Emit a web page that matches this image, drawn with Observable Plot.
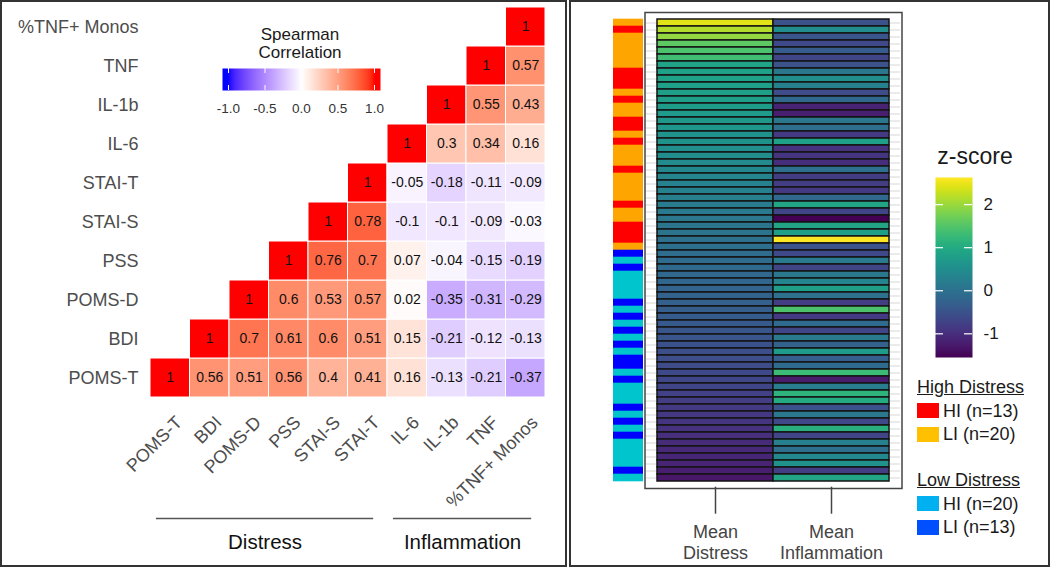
<!DOCTYPE html>
<html>
<head>
<meta charset="utf-8">
<script src="https://cdn.jsdelivr.net/npm/d3@7"></script>
<script src="https://cdn.jsdelivr.net/npm/@observablehq/plot@0.6"></script>
<style>
  body { margin: 0; background: #fff; font-family: "Liberation Sans", Arial, sans-serif; }
  #root { position: relative; width: 1050px; height: 568px; overflow: hidden; background: #fff; }
  .abs { position: absolute; }
  .abs svg { display: block; max-width: none !important; }
  .box { position: absolute; box-sizing: border-box; border: 2px solid #333; }
</style>
</head>
<body>
<div id="root"></div>
<script>
// ---------------- DATA ----------------
// Left panel: Spearman correlation matrix (upper triangle, each row starts at its own column)
const vars = ["POMS-T", "BDI", "POMS-D", "PSS", "STAI-S", "STAI-T", "IL-6", "IL-1b", "TNF", "%TNF+ Monos"];
const corrPOMST = [1, 0.56, 0.51, 0.56, 0.4, 0.41, 0.16, -0.13, -0.21, -0.37];
const corrBDI   = [1, 0.7, 0.61, 0.6, 0.51, 0.15, -0.21, -0.12, -0.13];
const corrPOMSD = [1, 0.6, 0.53, 0.57, 0.02, -0.35, -0.31, -0.29];
const corrPSS   = [1, 0.76, 0.7, 0.07, -0.04, -0.15, -0.19];
const corrSTAIS = [1, 0.78, -0.1, -0.1, -0.09, -0.03];
const corrSTAIT = [1, -0.05, -0.18, -0.11, -0.09];
const corrIL6   = [1, 0.3, 0.34, 0.16];
const corrIL1b  = [1, 0.55, 0.43];
const corrTNF   = [1, 0.57];
const corrMonos = [1];
const corrTicks = [-1, -0.5, 0, 0.5, 1];
const groupNames = ["Distress", "Inflammation"];
const groupFirst = ["POMS-T", "IL-6"];
const groupLast  = ["STAI-T", "%TNF+ Monos"];

// Right panel: per-subject group (HD = high distress, LD = low distress; HI/LI = high/low inflammation)
const groupSeq = [
  "HD-LI","HD-HI","HD-LI","HD-LI","HD-LI","HD-LI","HD-LI","HD-HI","HD-HI","HD-HI",
  "HD-LI","HD-HI","HD-LI","HD-LI","HD-HI","HD-HI","HD-LI","HD-HI","HD-LI","HD-LI",
  "HD-LI","HD-HI","HD-LI","HD-LI","HD-LI","HD-LI","HD-HI","HD-LI","HD-LI","HD-HI",
  "HD-HI","HD-HI","HD-LI","LD-LI","LD-HI","LD-LI","LD-HI","LD-HI","LD-HI","LD-HI",
  "LD-LI","LD-HI","LD-LI","LD-HI","LD-LI","LD-HI","LD-LI","LD-HI","LD-LI","LD-LI",
  "LD-HI","LD-LI","LD-HI","LD-HI","LD-HI","LD-LI","LD-HI","LD-LI","LD-HI","LD-LI",
  "LD-HI","LD-HI","LD-HI","LD-HI","LD-LI","LD-HI"
];
const meanDistress = [
  2.45, 2.15, 1.95, 1.6, 1.45, 1.35, 0.87, 0.85, 0.83, 0.81,
  0.79, 0.77, 0.75, 0.72, 0.68, 0.64, 0.6, 0.56, 0.52, 0.48,
  0.44, 0.4, 0.35, 0.31, 0.27, 0.23, 0.19, 0.15, 0.11, 0.07,
  0.04, 0.0, -0.03, -0.07, -0.1, -0.13, -0.16, -0.19, -0.22, -0.25,
  -0.29, -0.32, -0.35, -0.39, -0.43, -0.47, -0.51, -0.54, -0.57, -0.6,
  -0.63, -0.66, -0.7, -0.76, -0.8, -0.84, -0.88, -0.91, -0.95, -0.99,
  -1.03, -1.07, -1.1, -1.14, -1.2, -1.3
];
const meanInflammation = [
  -0.5, 0.5, -0.45, -0.65, -0.35, -0.7, -0.5, 0.1, 0.5, 0.25,
  -0.6, -0.15, -1.15, -1.2, 0.1, -0.05, -0.85, 0.85, -0.95, -0.9,
  -1.0, -0.05, -0.8, -0.8, -0.85, -0.15, 0.9, -0.7, -1.55, 0.9,
  0.8, 2.63, -0.5, -0.65, 0.15, -0.7, 0.1, 0.35, 0.8, 0.0,
  -0.8, 1.45, -0.85, -0.1, -0.7, 0.15, -0.25, 0.75, -0.3, -0.1,
  1.3, -1.25, 0.2, 1.15, 1.0, -0.5, 0.1, -0.65, 1.1, -0.7,
  0.25, 0.0, 0.4, 0.55, -0.8, 0.9
];
const measures = ["Mean Distress", "Mean Inflammation"];
const groupKeys = ["HD-HI", "HD-LI", "LD-HI", "LD-LI"];
const groupLabels = ["HI", "LI", "HI", "LI"];
const stripColors = ["#ff0000", "#ffa500", "#00c5cd", "#0000ff"];
const legendColors = ["#ff0000", "#ffc000", "#00b0f0", "#0050ff"];
const legendSections = ["High Distress", "Low Distress"];
const zTicks = [-1, 0, 1, 2];

// ---------------- BUILD ----------------
const FONT = '"Liberation Sans", Arial, sans-serif';
const root = document.getElementById("root");
function place(node, left, top, width) {
  const d = document.createElement("div");
  d.className = "abs";
  d.style.left = left + "px";
  d.style.top = top + "px";
  if (width != null) d.style.width = width + "px";
  d.appendChild(node);
  root.appendChild(d);
  return d;
}
function box(left, top, w, h) {
  const d = document.createElement("div");
  d.className = "box";
  Object.assign(d.style, {left: left + "px", top: top + "px", width: w + "px", height: h + "px"});
  root.appendChild(d);
}
function html(str, styles) {
  const d = document.createElement("div");
  d.className = "abs";
  d.innerHTML = str;
  Object.assign(d.style, styles);
  root.appendChild(d);
  return d;
}

// panel borders
box(0, 0, 567, 567);
box(569, 0, 481, 567);

// ---- Left: correlation matrix ----
const corrRows = [corrPOMST, corrBDI, corrPOMSD, corrPSS, corrSTAIS, corrSTAIT, corrIL6, corrIL1b, corrTNF, corrMonos];
const cells = [];
corrRows.forEach((vals, i) => vals.forEach((r, k) => cells.push({i, j: i + k, row: vars[i], col: vars[i + k], r})));
const idx = (name) => vars.indexOf(name);
const groups = groupNames.map((name, g) => ({
  name,
  x1: idx(groupFirst[g]) - 0.35,
  x2: idx(groupLast[g]) + 0.15
}));
const corrColor = {type: "linear", domain: [-1, 0, 1], range: ["#0000ff", "#ffffff", "#ff0000"], interpolate: "lab", clamp: true};
const n = vars.length;

const left = Plot.plot({
  width: 567, height: 568,
  marginLeft: 150, marginRight: 22, marginTop: 7, marginBottom: 171,
  x: {domain: [-0.5, n - 0.5], axis: null},
  y: {domain: [-0.5, n - 0.5], axis: null},
  color: corrColor,
  style: {fontFamily: FONT, background: "transparent", overflow: "visible"},
  marks: [
    Plot.rect(cells, {x1: d => d.j - 0.5, x2: d => d.j + 0.5, y1: d => d.i - 0.5, y2: d => d.i + 0.5, fill: "r", stroke: "white", strokeWidth: 1}),
    Plot.text(cells, {x: "j", y: "i", text: d => String(d.r), fontSize: 14, fill: "#111"}),
    Plot.text(vars, {frameAnchor: "left", y: (d, i) => i, text: d => d, textAnchor: "end", dx: -12, fontSize: 18, fill: "#4d4d4d"}),
    Plot.text(vars, {frameAnchor: "bottom", x: (d, i) => i, text: d => d, rotate: -45, textAnchor: "end", lineAnchor: "top", dx: 4, dy: 17, fontSize: 18, fill: "#4d4d4d"}),
    Plot.ruleY(groups, {x1: "x1", x2: "x2", y: () => -0.5, dy: 121, stroke: "#555", strokeWidth: 1.5}),
    Plot.text(groups, {x: d => (d.x1 + d.x2) / 2, y: () => -0.5, dy: 145, text: "name", fontSize: 20.5, fill: "#111"})
  ]
});
place(left, 0, 0, 567);

// Spearman legend
html("Spearman<br>Correlation", {left: "200px", top: "26px", width: "200px", textAlign: "center", fontSize: "17px", lineHeight: "18px", color: "#1a1a1a"});
const rasterOK = typeof Plot.raster === "function";
const corrLegendMarks = [];
if (rasterOK) {
  corrLegendMarks.push(Plot.raster({fill: (x, y) => x, x1: -1.082, x2: 1.082, y1: 0, y2: 1, width: 158, height: 1, imageRendering: "auto"}));
}
corrLegendMarks.push(
  Plot.tickX(corrTicks, {x: d => d, stroke: "white", strokeWidth: 1, insetBottom: 17}),
  Plot.tickX(corrTicks, {x: d => d, stroke: "white", strokeWidth: 1, insetTop: 17}),
  Plot.axisX(corrTicks, {tickSize: 0, tickPadding: 13, fontSize: 13.5, tickFormat: d => d.toFixed(1), label: null, color: "#333"})
);
const corrLegend = Plot.plot({
  width: 200, height: 60,
  marginLeft: 22, marginRight: 20, marginTop: 8, marginBottom: 30,
  x: {domain: [-1.082, 1.082]},
  y: {domain: [0, 1], axis: null},
  color: corrColor,
  style: {fontFamily: FONT, background: "transparent", overflow: "visible"},
  marks: corrLegendMarks
});
place(corrLegend, 200, 60, 200);

// ---- Right: heatmap ----
const subjects = groupSeq.map((g, i) => ({id: i, group: g, dist: meanDistress[i], infl: meanInflammation[i]}));
const ids = subjects.map(d => d.id);
const long = subjects.flatMap(d => [
  {id: d.id, measure: measures[0], z: d.dist},
  {id: d.id, measure: measures[1], z: d.infl}
]);
const zExtent = d3.extent(long, d => d.z);
const zColor = {type: "sequential", scheme: "viridis", domain: zExtent};

const strip = Plot.plot({
  width: 30, height: 568,
  marginLeft: 0, marginRight: 0, marginTop: 13.3, marginBottom: 81.3,
  x: {domain: ["group"], axis: null, padding: 0},
  y: {domain: ids, axis: null, padding: 0},
  color: {domain: groupKeys, range: stripColors},
  style: {fontFamily: FONT, background: "transparent"},
  marks: [
    Plot.cell(subjects, {x: () => "group", y: "id", fill: "group", stroke: "group", strokeWidth: 0.6})
  ]
});
place(strip, 613, 0, 30);

const heat = Plot.plot({
  width: 261, height: 568,
  marginLeft: 14, marginRight: 15, marginTop: 13.3, marginBottom: 81.3,
  x: {domain: measures, padding: 0},
  y: {domain: ids, axis: null, padding: 0},
  color: zColor,
  style: {fontFamily: FONT, background: "transparent", overflow: "visible"},
  marks: [
    Plot.tickY(subjects, {y: "id", stroke: "#e4e4e4", strokeWidth: 1.5, insetLeft: -11, insetRight: -11}),
    Plot.cell(long, {x: "measure", y: "id", fill: "z", stroke: "#151515", strokeWidth: 1.5}),
    Plot.frame({stroke: "#444", strokeWidth: 1.5, insetLeft: -12.5, insetRight: -12.5, insetTop: -1.3, insetBottom: -1.3}),
    Plot.axisX({tickSize: 27, tickPadding: 9, fontSize: 18, lineHeight: 1.15, tickFormat: d => d.replace(" ", "\n"), label: null, color: "#444", strokeWidth: 1.5})
  ]
});
place(heat, 643, 0, 261);

// z-score legend
html("z-score", {left: "925px", top: "143px", width: "100px", textAlign: "center", fontSize: "23px", lineHeight: "26px", color: "#1a1a1a"});
const zMarks = [];
if (rasterOK) {
  zMarks.push(Plot.raster({fill: (x, y) => y, x1: 0, x2: 1, y1: zExtent[0], y2: zExtent[1], width: 4, height: 180, imageRendering: "auto"}));
}
zMarks.push(
  Plot.tickY(zTicks, {y: d => d, stroke: "white", strokeWidth: 1.2, insetRight: 29}),
  Plot.tickY(zTicks, {y: d => d, stroke: "white", strokeWidth: 1.2, insetLeft: 29}),
  Plot.axisY(zTicks, {anchor: "right", tickSize: 0, tickPadding: 11, fontSize: 17, tickFormat: d => String(d), label: null, color: "#1a1a1a"})
);
const zLegend = Plot.plot({
  width: 110, height: 370,
  marginLeft: 0, marginRight: 73, marginTop: 177, marginBottom: 13,
  x: {domain: [0, 1], axis: null},
  y: {domain: zExtent},
  color: zColor,
  style: {fontFamily: FONT, background: "transparent", overflow: "visible"},
  marks: zMarks
});
place(zLegend, 935, 0, 110);

// group legend (High / Low Distress)
const counts = d3.rollup(groupSeq, v => v.length, d => d);
const sectionTops = [377, 470];
legendSections.forEach((title, s) => {
  const top = sectionTops[s];
  html(title, {left: "917px", top: top + "px", fontSize: "18px", lineHeight: "20px", color: "#1a1a1a", textDecoration: "underline"});
  [0, 1].forEach(k => {
    const gi = s * 2 + k;
    const y = top + 26 + k * 23.5;
    html("", {left: "917px", top: y + "px", width: "22px", height: "15px", background: legendColors[gi]});
    html(`${groupLabels[gi]} (n=${counts.get(groupKeys[gi])})`, {left: "943px", top: (y - 2.5) + "px", fontSize: "18px", lineHeight: "20px", color: "#1a1a1a"});
  });
});
</script>
</body>
</html>
